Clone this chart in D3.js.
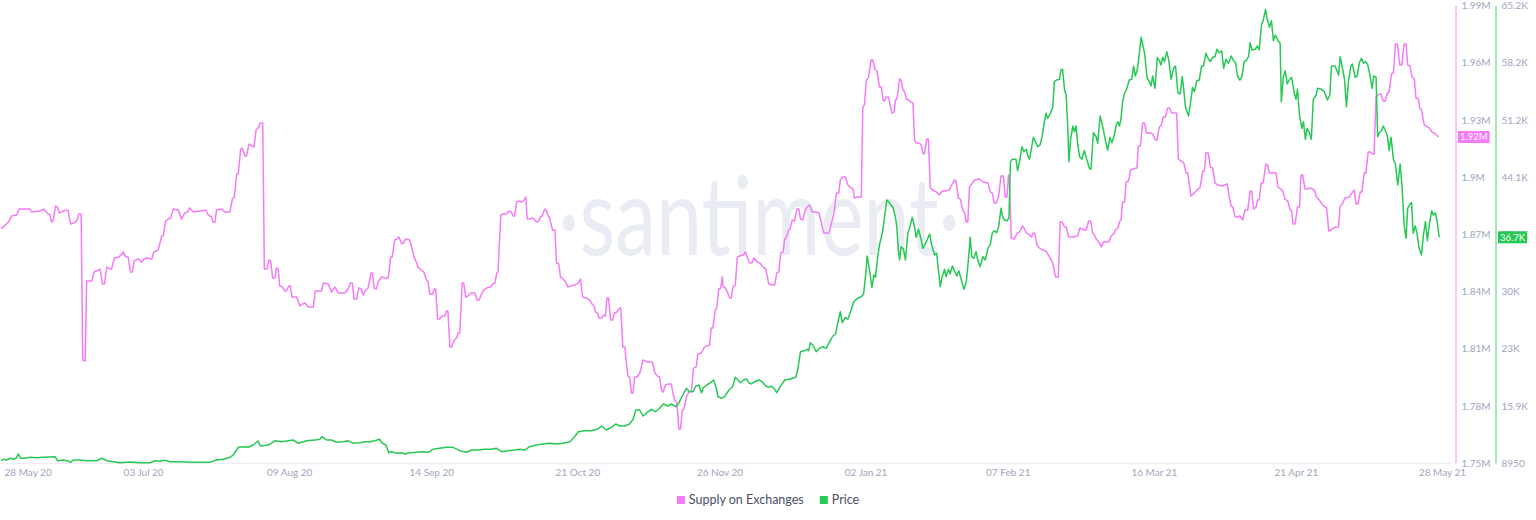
<!DOCTYPE html>
<html>
<head>
<meta charset="utf-8">
<script src="https://cdn.jsdelivr.net/npm/d3@7"></script>
<style>
  html, body { margin: 0; padding: 0; background: #ffffff; }
  svg { display: block; font-family: Lato, "Open Sans", "DejaVu Sans", sans-serif; }
</style>
</head>
<body>
<svg id="chart" width="1536" height="520"></svg>
<script>
// ---------------- DATA ----------------
const startDate = "2020-05-28";
const endDate = "2021-05-28";
const seriesNames = ["Supply on Exchanges", "Price"];

const xTickDates = ["2020-05-28","2020-07-03","2020-08-09","2020-09-14","2020-10-21","2020-11-26","2021-01-02","2021-02-07","2021-03-16","2021-04-21","2021-05-28"];
const xTickLabels = ["28 May 20","03 Jul 20","09 Aug 20","14 Sep 20","21 Oct 20","26 Nov 20","02 Jan 21","07 Feb 21","16 Mar 21","21 Apr 21","28 May 21"];

// supply axis (thousands of coins)
const supplyTickValues = [1750,1780,1810,1840,1870,1900,1930,1960,1990];
const supplyTickLabels = ["1.75M","1.78M","1.81M","1.84M","1.87M","1.9M","1.93M","1.96M","1.99M"];
// price axis (USD)
const priceTickValues = [8950,15981,23013,30044,37075,44106,51138,58169,65200];
const priceTickLabels = ["8950","15.9K","23K","30K","37.1K","44.1K","51.2K","58.2K","65.2K"];

// Supply on Exchanges: days since 28 May 2020, value in thousands
const supplyDays = [
0,0.6,1.4,2.1,2.7,4.0,4.6,7.3,7.8,9.9,
10.9,11.6,12.4,12.8,13.2,13.8,14.3,14.8,15.8,17.0,
17.6,18.5,19.2,19.7,20.3,20.7,21.3,21.7,23.0,23.6,
24.2,25.1,25.7,26.2,26.8,27.6,28.0,28.7,29.9,31.0,
31.6,32.2,32.8,33.3,33.7,34.8,35.6,36.2,36.9,38.2,
38.7,39.8,40.7,41.1,41.7,42.4,43.0,43.6,44.9,45.7,
46.6,47.3,47.8,48.7,50.4,51.9,52.5,53.3,53.7,54.2,
54.6,55.9,56.7,58.0,58.6,59.1,59.7,60.1,60.7,61.1,
61.8,62.2,62.8,63.5,64.1,64.6,65.1,65.7,66.3,66.7,
67.3,67.9,68.3,68.8,69.4,69.8,70.2,70.6,71.3,71.9,
72.3,72.9,73.3,73.7,74.9,75.7,76.4,77.0,77.8,79.1,
79.6,81.2,81.6,82.9,83.7,84.6,85.4,87.1,87.9,88.5,
89.0,89.4,90.1,90.6,91.3,91.7,92.4,93.0,93.7,94.1,
94.5,95.1,95.5,96.4,97.2,98.1,98.7,99.1,99.7,100.3,
100.8,101.4,101.8,102.5,103.5,104.1,104.6,105.2,105.6,106.5,
107.1,107.8,108.2,108.6,109.3,109.7,110.1,110.6,111.1,111.8,
112.4,112.8,113.2,113.7,114.1,114.8,115.4,115.8,116.2,116.8,
117.2,117.7,118.3,119.0,120.0,120.6,121.1,121.7,122.3,123.0,
124.0,124.5,125.1,125.6,125.9,126.6,127.2,128.0,128.7,129.3,
129.7,130.1,130.6,131.2,132.0,132.5,132.9,133.3,133.9,134.5,
135.0,135.6,136.2,136.7,137.1,137.7,138.2,138.6,139.0,139.7,
140.3,140.7,141.3,141.7,142.4,143.0,143.6,144.5,145.3,146.2,
146.8,147.3,148.3,149.1,149.7,150.2,150.6,151.1,151.5,152.1,
152.7,153.1,153.5,153.9,154.4,154.9,155.4,156.0,156.7,157.0,
157.5,158.0,158.4,158.8,159.2,159.7,160.1,160.5,161.1,161.8,
162.2,162.6,163.2,163.9,165.0,165.6,166.3,166.8,167.3,167.7,
168.3,168.9,169.8,170.2,170.6,171.2,171.7,172.1,172.6,173.0,
173.6,174.2,174.9,175.4,176.1,176.5,177.4,178.2,179.5,179.9,
180.3,180.9,181.3,181.8,182.3,182.7,182.9,183.3,183.7,184.1,
184.6,185.0,185.4,186.0,186.5,187.1,188.0,188.6,189.0,189.6,
190.2,190.7,191.3,192.2,193.0,193.7,194.1,194.5,195.5,196.0,
196.5,197.0,197.5,198.1,198.5,198.9,199.5,199.9,200.4,201.0,
201.6,202.1,202.5,203.1,203.7,204.2,204.8,205.5,206.5,207.2,
207.8,208.4,209.7,210.3,211.0,211.6,212.2,212.6,213.2,213.9,
214.5,215.4,215.8,216.2,216.8,217.9,218.3,218.7,219.2,219.7,
220.4,220.8,221.4,221.9,222.5,223.0,223.4,223.8,224.2,224.8,
225.3,225.7,226.2,226.6,227.0,227.6,228.0,228.4,228.9,229.3,
229.9,230.4,231.0,231.4,231.8,232.5,233.1,233.5,233.9,234.5,
234.9,235.4,236.0,236.9,237.7,238.4,239.2,240.1,240.8,241.5,
241.9,242.5,243.0,243.6,244.1,244.5,244.9,245.3,245.9,246.6,
247.8,248.7,250.0,250.6,251.1,251.6,252.1,252.7,253.3,253.9,
254.4,254.8,255.2,255.4,255.9,256.7,257.4,258.0,258.7,259.1,
259.7,260.3,261.0,261.4,261.8,262.4,263.0,263.9,264.7,265.6,
266.4,267.1,267.8,268.3,268.8,269.4,269.8,270.4,271.5,272.7,
273.3,274.4,274.9,275.5,276.0,276.5,277.0,277.4,278.1,278.7,
279.2,280.6,281.2,281.8,282.3,282.9,283.3,283.7,284.1,284.6,
285.0,285.6,286.1,286.7,287.7,288.1,288.6,289.2,289.6,290.2,
291.1,291.7,292.4,292.8,293.4,293.8,294.4,294.9,295.5,296.0,
296.5,297.8,298.2,298.9,299.6,300.2,300.6,301.4,301.8,302.5,
303.2,303.7,304.4,304.8,305.2,305.8,306.3,306.9,307.5,308.2,
309.4,310.6,311.1,311.6,312.0,312.6,313.2,313.8,314.5,315.1,
315.8,316.4,316.8,317.3,317.9,318.3,318.7,319.2,319.7,320.4,
320.8,321.3,323.0,323.4,324.2,324.6,325.2,325.9,326.5,326.9,
327.3,327.8,328.4,328.9,329.3,329.7,330.3,331.0,331.6,332.7,
333.2,333.9,334.8,335.4,335.8,336.3,336.9,337.5,338.2,338.8,
339.2,339.8,340.4,341.5,342.2,342.8,343.2,343.7,344.3,344.7,
345.3,345.7,346.3,346.8,347.4,347.8,348.3,348.7,349.5,350.1,
350.6,351.2,351.6,352.2,352.7,353.2,353.7,354.3,354.8,355.4,
355.9,356.3,356.9,357.4,358.0,358.4,359.0,359.4,359.8,360.5,
361.3,361.8,362.5,363.0,363.6,364.1
];
const supplyThousands = [
1873.1,1873.8,1875.4,1877.1,1879.6,1880.1,1883.2,1883.2,1881.7,1882.2,
1883.2,1881.2,1880.1,1876.4,1877.0,1884.8,1884.3,1881.2,1882.2,1882.7,
1875.4,1875.9,1877.0,1880.6,1880.6,1804.0,1803.5,1845.5,1845.5,1850.2,
1850.7,1851.8,1843.9,1843.9,1852.8,1851.8,1851.8,1857.5,1858.1,1860.7,
1858.1,1858.1,1850.2,1850.2,1856.0,1857.0,1855.4,1857.0,1857.5,1857.0,
1860.7,1861.7,1869.1,1869.1,1877.0,1878.0,1878.5,1883.2,1882.7,1878.0,
1881.2,1881.7,1883.8,1881.7,1882.2,1882.7,1880.1,1879.1,1876.4,1876.4,
1882.7,1883.2,1881.7,1881.7,1888.5,1889.5,1901.6,1901.6,1914.7,1915.2,
1911.1,1911.1,1917.3,1916.3,1915.8,1924.7,1925.7,1928.4,1928.4,1851.8,
1851.8,1856.5,1856.0,1847.1,1847.1,1852.3,1851.8,1842.9,1842.3,1840.2,
1840.2,1842.9,1842.9,1837.1,1837.1,1832.4,1833.4,1833.9,1831.8,1831.8,
1840.2,1840.2,1844.4,1843.9,1839.7,1842.3,1839.2,1839.2,1841.3,1844.4,
1844.4,1836.0,1836.0,1841.8,1841.3,1838.1,1840.8,1841.8,1849.7,1849.7,
1841.8,1841.3,1845.0,1847.6,1847.1,1847.1,1858.1,1858.1,1867.0,1867.5,
1868.6,1865.4,1864.9,1867.5,1867.0,1862.8,1858.1,1855.4,1852.8,1851.2,
1850.2,1846.0,1845.0,1838.7,1838.7,1841.3,1841.3,1825.5,1825.5,1827.1,
1827.1,1829.7,1829.7,1810.9,1810.9,1814.5,1815.6,1818.2,1818.2,1844.4,
1844.4,1837.1,1837.6,1839.2,1839.2,1835.5,1835.5,1838.7,1840.8,1841.8,
1842.3,1843.9,1844.4,1849.7,1850.2,1880.1,1880.6,1880.6,1882.2,1881.7,
1879.6,1879.6,1886.9,1887.4,1886.9,1888.0,1889.5,1878.0,1878.0,1878.5,
1878.0,1876.4,1877.0,1879.1,1879.6,1883.2,1882.2,1879.6,1878.5,1872.2,
1872.2,1854.9,1854.4,1847.6,1846.5,1845.0,1842.3,1842.9,1843.4,1844.4,
1846.5,1837.1,1836.6,1835.5,1833.4,1832.4,1829.2,1828.7,1826.1,1826.1,
1827.6,1827.1,1836.6,1836.6,1825.0,1825.0,1828.7,1829.2,1831.3,1831.3,
1810.9,1810.9,1803.0,1795.6,1795.1,1786.7,1786.7,1795.1,1795.1,1797.2,
1800.4,1804.0,1803.5,1803.0,1803.0,1797.2,1795.6,1795.1,1788.3,1787.2,
1790.9,1791.4,1791.4,1786.7,1783.0,1781.5,1767.8,1767.8,1777.8,1778.3,
1784.6,1787.2,1787.8,1799.8,1800.4,1807.2,1807.7,1810.9,1811.9,1820.8,
1820.8,1830.3,1831.3,1841.3,1841.8,1847.6,1842.3,1842.3,1840.8,1839.2,
1836.6,1836.6,1842.3,1843.4,1858.1,1858.6,1859.1,1860.7,1858.1,1854.9,
1854.9,1857.5,1856.0,1854.9,1852.8,1851.8,1847.6,1843.9,1843.4,1843.4,
1849.7,1850.2,1860.2,1860.7,1867.5,1868.0,1872.2,1872.8,1877.5,1877.0,
1883.2,1883.2,1878.0,1877.5,1882.7,1884.3,1885.3,1881.7,1881.7,1881.2,
1875.9,1870.7,1870.7,1875.4,1881.2,1891.6,1891.6,1898.5,1900.0,1900.0,
1895.8,1894.3,1893.7,1889.0,1889.5,1889.5,1936.8,1937.8,1950.9,1952.0,
1961.4,1961.4,1956.2,1955.6,1947.2,1947.2,1940.4,1939.9,1942.0,1942.0,
1936.8,1933.6,1934.1,1940.4,1941.5,1951.4,1950.9,1946.2,1944.6,1941.0,
1940.4,1939.4,1938.9,1919.4,1917.9,1917.9,1916.8,1912.6,1912.1,1920.0,
1920.0,1894.3,1893.2,1892.2,1890.6,1892.7,1892.7,1893.2,1895.8,1898.5,
1897.9,1889.0,1888.5,1882.7,1881.2,1876.4,1876.4,1894.8,1896.4,1898.5,
1899.0,1897.4,1896.9,1892.2,1891.6,1886.4,1886.4,1890.1,1900.6,1900.6,
1889.5,1889.5,1901.1,1899.5,1868.0,1867.5,1870.7,1871.2,1874.3,1873.3,
1870.7,1870.1,1868.6,1870.7,1870.7,1864.4,1862.8,1861.7,1861.2,1858.1,
1854.9,1847.6,1847.6,1876.4,1876.4,1873.8,1873.8,1868.6,1868.6,1869.1,
1873.3,1872.2,1872.2,1877.0,1877.0,1870.7,1869.6,1867.5,1865.9,1863.3,
1865.9,1865.9,1869.1,1870.1,1872.2,1873.3,1876.4,1877.5,1886.9,1886.9,
1897.4,1897.9,1903.7,1904.2,1904.8,1916.3,1916.3,1928.4,1928.4,1923.1,
1923.1,1922.6,1919.4,1919.4,1926.3,1926.8,1931.5,1931.5,1936.2,1936.2,
1933.6,1933.6,1909.5,1908.4,1907.4,1902.1,1902.1,1890.1,1890.6,1892.2,
1893.7,1894.3,1903.2,1903.2,1912.6,1912.6,1905.3,1904.8,1896.9,1895.8,
1895.3,1896.4,1889.5,1884.8,1884.3,1879.1,1879.1,1879.6,1877.5,1882.7,
1882.7,1892.7,1892.7,1883.2,1884.3,1888.0,1888.0,1896.9,1896.9,1906.9,
1906.3,1902.1,1902.1,1894.8,1893.7,1893.2,1888.5,1887.4,1883.2,1882.2,
1875.4,1875.4,1884.3,1884.3,1901.1,1901.1,1893.7,1893.7,1894.3,1893.2,
1889.5,1888.0,1885.3,1884.3,1883.8,1871.7,1872.2,1873.3,1873.8,1873.8,
1884.8,1885.9,1889.0,1889.5,1891.6,1893.2,1885.9,1885.9,1892.2,1892.2,
1902.1,1902.1,1913.2,1913.2,1912.1,1912.1,1942.0,1943.1,1943.6,1939.9,
1939.9,1944.1,1944.6,1954.1,1954.6,1969.8,1969.8,1958.8,1958.8,1969.8,
1969.8,1958.8,1958.3,1952.5,1951.4,1941.5,1941.0,1936.2,1935.2,1927.3,
1926.3,1925.7,1923.6,1923.1,1922.1,1921.0
];

// Price: days since 28 May 2020, value in USD
const priceDays = [
0,0.6,1.4,2.3,3.1,3.8,4.4,5.0,6.1,7.3,
9.0,10.7,12.4,13.7,14.3,15.8,17.0,17.6,18.3,20.0,
21.7,24.2,25.5,26.8,28.4,30.1,32.7,35.2,37.7,39.0,
40.3,41.5,42.8,45.7,48.7,52.9,54.6,56.3,58.0,58.8,
60.1,61.3,62.6,63.9,65.1,65.7,67.3,68.1,69.4,71.1,
72.3,74.0,75.3,77.4,79.5,80.8,81.3,82.5,83.7,85.0,
86.7,87.9,89.2,90.9,92.2,93.4,94.7,95.9,96.6,97.5,
98.2,98.9,100.2,101.4,102.3,103.5,105.2,106.9,108.2,109.4,
111.1,112.8,114.5,116.2,117.9,119.2,120.8,122.5,124.2,125.5,
126.8,128.4,130.1,131.4,132.7,133.9,135.6,137.3,139.0,140.7,
142.4,144.1,145.3,146.2,147.8,149.5,151.0,152.1,153.3,154.6,
155.7,156.7,158.0,159.2,160.1,160.8,161.8,162.6,163.6,164.7,
165.8,166.8,167.8,168.9,169.8,170.9,171.7,172.6,173.6,174.4,
175.3,176.0,176.8,177.4,178.0,178.8,179.7,180.5,181.2,181.6,
182.5,183.3,184.4,185.3,186.0,186.7,187.3,188.1,188.8,189.4,
190.1,190.9,192.0,192.8,193.7,194.5,195.1,196.0,196.5,197.4,
198.5,199.7,201.3,201.8,202.5,203.5,204.2,204.6,205.0,205.6,
206.5,207.3,208.2,209.0,209.9,210.7,211.4,212.0,212.6,213.1,
213.9,214.5,215.2,216.0,217.0,217.9,218.5,219.0,219.4,220.0,
220.6,221.1,221.5,222.0,222.5,223.0,223.4,223.8,224.4,225.1,
225.9,226.5,226.9,227.3,227.6,228.0,228.6,229.1,229.7,230.3,
230.8,231.4,231.8,232.4,233.1,233.5,234.4,235.2,235.8,236.5,
237.0,237.9,238.4,239.0,239.4,240.0,240.4,241.0,241.5,242.1,
242.6,243.2,243.9,244.5,245.0,245.5,245.9,246.4,247.0,247.4,
248.0,248.7,249.3,250.0,250.6,251.1,251.6,252.2,252.7,253.3,
253.7,254.2,254.8,255.3,255.7,256.1,257.1,257.5,257.9,258.6,
259.1,259.7,260.1,260.5,261.0,261.5,262.0,262.6,263.2,263.7,
264.3,264.7,265.1,265.8,266.4,266.8,267.4,268.1,268.5,268.9,
269.4,269.8,270.2,270.5,270.9,271.5,271.9,272.3,272.7,273.2,
273.8,274.4,275.0,275.7,276.1,276.7,277.4,277.8,278.4,279.1,
279.7,280.3,280.9,281.4,282.0,282.5,282.9,283.3,283.7,284.1,
284.6,285.1,285.8,286.4,286.9,287.3,287.8,288.2,288.8,289.2,
289.7,290.3,290.9,291.3,291.7,292.3,292.9,293.4,293.8,294.3,
294.7,295.3,295.8,296.4,297.0,297.5,298.1,298.7,299.2,299.6,
300.0,300.8,301.4,301.8,302.3,302.9,303.5,304.1,304.6,305.2,
305.6,306.3,306.9,307.5,308.0,308.6,309.2,309.7,310.3,310.9,
311.6,312.2,312.7,313.2,313.8,314.3,314.9,315.4,316.0,316.4,
316.9,317.7,318.2,318.7,319.3,319.7,320.3,320.7,321.3,321.8,
322.3,322.8,323.5,324.0,324.3,324.8,325.3,325.8,326.3,326.9,
327.6,328.0,328.4,328.9,329.5,329.9,330.4,330.8,331.4,331.9,
332.4,333.1,333.5,334.4,335.2,336.0,336.6,337.0,337.9,338.4,
338.8,339.2,339.8,340.3,340.8,341.3,341.9,342.3,343.0,343.5,
344.1,344.6,345.1,345.7,346.2,346.7,347.3,347.7,348.3,348.7,
349.1,349.7,350.1,350.6,351.2,351.6,352.1,352.7,353.2,353.8,
354.4,354.9,355.4,355.9,356.3,356.9,357.3,357.7,358.2,358.6,
359.2,359.8,360.3,360.8,361.3,361.8,362.4,362.8,363.3,363.7,364.3
];
const priceUsd = [
9230,9405,9320,9528,9405,9528,10057,9528,9528,9651,
9602,9651,9688,9725,9233,9320,9196,9036,9320,9320,
9233,9233,9528,9233,9110,8987,9073,8987,8987,9233,
9159,9282,9110,9110,9036,9036,9320,9405,9651,9934,
10880,10954,10880,11163,11655,11040,11126,11249,11692,11569,
11655,11778,11372,11692,11778,11864,12184,11778,11778,11495,
11569,11692,11372,11446,11569,11569,11692,11864,11372,11163,
10216,10339,10143,10216,10057,10216,10266,10339,10266,10634,
10757,10880,10880,10462,10266,10548,10548,10634,10634,10757,
10339,10462,10548,10634,10548,10954,11163,11286,11372,11286,
11372,11569,12184,12798,12921,12921,13093,13499,13007,13339,
13745,13499,13499,13745,14323,15466,15466,14729,15134,15552,
15257,15675,16204,15958,16204,15872,16364,17188,18134,17716,
17716,18417,18540,17593,18257,18540,18823,19155,18134,17102,
16905,17102,17925,18331,19487,19155,18823,19155,19278,18823,
18663,18946,19155,18946,18417,18257,18417,18011,17593,18331,
19155,19241,19487,20384,22634,22757,22929,22757,23741,23458,
22634,23052,23249,23052,23864,24565,24811,26323,27552,26200,
26864,26618,27552,28782,29200,29396,29729,32065,34401,32679,
30552,32065,31782,33995,35753,36774,37683,39233,41286,40880,
40388,39319,38003,35138,33909,35544,35224,33909,37191,38089,
39159,38003,36700,37683,36368,35347,36159,37106,35630,34524,
34732,30626,31856,32765,31856,32765,32188,33171,32593,31942,
32593,31536,30306,31241,33700,36700,34315,34118,34929,33909,
33085,34315,33909,35347,35876,37265,37511,37265,38003,40265,
39233,38827,38741,39036,45995,46290,46290,44888,45798,47839,
47224,47519,46696,46290,47642,48995,48454,47839,48048,49069,
50913,51946,51331,51946,52683,55831,56040,56126,57269,57355,
54810,54196,50298,45995,48663,50384,49684,50384,48257,46610,
46290,47384,46290,45184,45060,49560,49069,48257,51614,50224,
48749,47433,48995,48331,49278,50507,50913,50384,51331,53372,
54404,54897,56040,56126,57761,56532,57269,58708,61290,60343,
59237,56249,55831,55302,56532,55020,58831,58413,57884,58831,
58291,59520,58413,56126,57478,57761,54478,54319,56446,54810,
52757,51614,53581,55142,54602,55954,56040,57761,57761,59323,
58831,58291,58831,58905,59814,59396,59642,57478,58585,58093,
58991,58413,58167,56532,56040,56446,58291,58413,58905,60626,
59728,59814,60220,59728,62925,63331,64732,63626,62519,63331,
60872,61573,60872,60552,53372,56372,57183,55548,56040,56372,
54404,53667,54897,51737,50101,50913,48749,50101,49560,48749,
53667,54196,55020,54897,54602,53581,54196,57761,57761,57183,
56655,58905,57478,56126,52757,55831,57761,58007,56372,56532,
58167,58708,58093,58291,57884,56778,55020,56532,56372,49069,
49560,49806,50384,49892,49069,47348,48995,46290,45712,43130,
45712,42847,38212,36577,40265,40794,40954,37191,38089,37388,
35347,34524,36983,38618,36282,38335,39970,39442,39724,38827,36700
];

// ---------------- STYLE ----------------
const supplyColor = "#f47bf7";
const priceColor = "#26c953";
const axisTextColor = "#9ea6bd";

// ---------------- CHART ----------------
const svg = d3.select("#chart");
const DAY = 86400000;
const t0 = Date.parse(startDate + "T00:00:00Z");
const toDate = d => new Date(t0 + d * DAY);

const x = d3.scaleUtc()
  .domain([new Date(startDate + "T00:00:00Z"), new Date(endDate + "T00:00:00Z")])
  .range([1, 1442]);
const ySupply = d3.scaleLinear().domain([1750, 1990]).range([463, 5.5]);
const yPrice = d3.scaleLinear().domain([8950, 65200]).range([463, 5.5]);

// watermark
svg.append("text")
  .attr("x", 759).attr("y", 255)
  .attr("text-anchor", "middle")
  .attr("font-family", "Lato, Roboto, sans-serif")
  .attr("font-weight", 400)
  .attr("font-size", 108)
  .attr("fill", "#e9ecf3")
  .attr("textLength", 402)
  .attr("lengthAdjust", "spacingAndGlyphs")
  .text("\u00B7santiment\u00B7");

// x axis
const xAxis = d3.axisBottom(x)
  .tickValues(xTickDates.map(s => new Date(s + "T00:00:00Z")))
  .tickFormat((d, i) => xTickLabels[i])
  .tickSize(0).tickPadding(5).tickSizeOuter(0);
const gx = svg.append("g").attr("transform", "translate(0,463.5)").call(xAxis);
gx.select(".domain").attr("stroke", "#eceef4").attr("stroke-width", 1.5).attr("d", "M0,0H1452");
gx.selectAll("text").attr("fill", axisTextColor).attr("font-size", 10).attr("font-family", "Lato, sans-serif");
gx.select(".tick text").attr("text-anchor", "start").attr("x", 3);

// y axes
function styleYAxis(g, color) {
  g.select(".domain").attr("stroke", color).attr("stroke-width", 1.5).attr("stroke-opacity", 0.55);
  g.selectAll("text").attr("fill", axisTextColor).attr("font-size", 10).attr("font-family", "Lato, sans-serif");
}
const gS = svg.append("g").attr("transform", "translate(1455.5,0)")
  .call(d3.axisRight(ySupply).tickValues(supplyTickValues)
    .tickFormat((d, i) => supplyTickLabels[i]).tickSize(0).tickSizeOuter(0).tickPadding(6));
styleYAxis(gS, supplyColor);
const gP = svg.append("g").attr("transform", "translate(1495.5,0)")
  .call(d3.axisRight(yPrice).tickValues(priceTickValues)
    .tickFormat((d, i) => priceTickLabels[i]).tickSize(0).tickSizeOuter(0).tickPadding(6));
styleYAxis(gP, priceColor);

// lines
const supplyData = supplyDays.map((d, i) => ({ date: toDate(d), v: supplyThousands[i] }));
const priceData = priceDays.map((d, i) => ({ date: toDate(d), v: priceUsd[i] }));

svg.append("path").datum(supplyData)
  .attr("fill", "none").attr("stroke", supplyColor).attr("stroke-width", 1.5)
  .attr("stroke-linejoin", "round")
  .attr("d", d3.line().x(d => x(d.date)).y(d => ySupply(d.v)));
svg.append("path").datum(priceData)
  .attr("fill", "none").attr("stroke", priceColor).attr("stroke-width", 1.5)
  .attr("stroke-linejoin", "round")
  .attr("d", d3.line().x(d => x(d.date)).y(d => yPrice(d.v)));

// last value badges
function badge(xLeft, yc, label, color) {
  const g = svg.append("g");
  const t = g.append("text").attr("x", xLeft + 2).attr("y", yc).attr("dy", "0.35em")
    .attr("font-size", 9.5).attr("font-family", "Lato, sans-serif").attr("fill", "#ffffff").text(label);
  const w = t.node().getComputedTextLength() + 4;
  g.insert("rect", "text").attr("x", xLeft).attr("y", yc - 6).attr("width", w).attr("height", 12)
    .attr("fill", color);
}
const lastSupply = supplyThousands[supplyThousands.length - 1];
const lastPrice = priceUsd[priceUsd.length - 1];
badge(1458, ySupply(lastSupply), d3.format(".3~s")(lastSupply * 1000).replace("k", "K"), supplyColor);
badge(1498, yPrice(lastPrice), d3.format(".3~s")(lastPrice).replace("k", "K"), priceColor);

// legend
const legend = svg.append("g");
let lx = 0;
[seriesNames[0], seriesNames[1]].forEach((name, i) => {
  const col = i === 0 ? supplyColor : priceColor;
  const g = legend.append("g").attr("transform", `translate(${lx},0)`);
  g.append("rect").attr("x", 0).attr("y", -4).attr("width", 8).attr("height", 8).attr("fill", col);
  const t = g.append("text").attr("x", 12).attr("y", 0).attr("dy", "0.35em")
    .attr("font-size", 12.5).attr("font-family", "Lato, sans-serif").attr("fill", "#4a4f66").text(name);
  lx += 12 + t.node().getComputedTextLength() + 16;
});
const legendWidth = lx - 16;
legend.attr("transform", `translate(${768 - legendWidth / 2},500)`);
</script>
</body>
</html>
